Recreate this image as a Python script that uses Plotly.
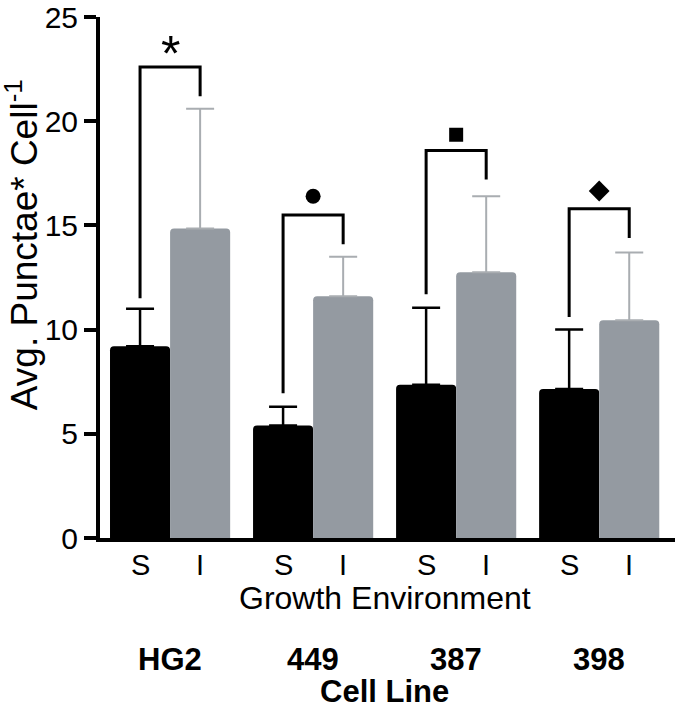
import plotly.graph_objects as go

# ---- data ----
cell_lines = ["HG2", "449", "387", "398"]
env_labels = ["S", "I"]
s_means = [9.2, 5.4, 7.35, 7.15]
i_means = [14.85, 11.6, 12.75, 10.45]
s_err = [1.8, 0.9, 3.7, 2.85]
i_err = [5.75, 1.9, 3.65, 3.25]
bracket_top = [22.6, 15.5, 18.6, 15.8]
bracket_left_end = [11.5, 6.95, 11.7, 10.6]
bracket_right_end = [21.2, 14.1, 17.2, 14.4]
sig_marks = ["*", "circle", "square", "diamond"]
sig_y = [23.4, 16.4, 19.35, 16.65]
y_ticks = [0, 5, 10, 15, 20, 25]

FONT = "Liberation Sans, Arial, Helvetica, sans-serif"
BLACK = "#000000"
GRAY = "#949aa1"
GRAY_ERR = "#a9adb1"

W = 0.42  # bar width in group units
xg = list(range(len(cell_lines)))
xs = [x - W / 2 for x in xg]
xi = [x + W / 2 for x in xg]

fig = go.Figure()
fig.add_trace(go.Bar(
    x=xg, y=s_means, width=W, offset=-W,
    marker=dict(color=BLACK, line=dict(width=0), cornerradius=4),
    error_y=dict(type="data", symmetric=False, array=s_err,
                 arrayminus=[0] * len(s_err), color=BLACK,
                 thickness=2.5, width=14),
    showlegend=False, hoverinfo="skip",
))
fig.add_trace(go.Bar(
    x=xg, y=i_means, width=W, offset=0,
    marker=dict(color=GRAY, line=dict(width=0), cornerradius=4),
    error_y=dict(type="data", symmetric=False, array=i_err,
                 arrayminus=[0] * len(i_err), color=GRAY_ERR,
                 thickness=2, width=14),
    showlegend=False, hoverinfo="skip",
))

# significance brackets
shapes = []
for k in range(len(cell_lines)):
    path = (f"M {xs[k]},{bracket_left_end[k]} L {xs[k]},{bracket_top[k]} "
            f"L {xi[k]},{bracket_top[k]} L {xi[k]},{bracket_right_end[k]}")
    shapes.append(dict(type="path", path=path, xref="x", yref="y",
                       line=dict(color=BLACK, width=3)))

# significance markers
for k, m in enumerate(sig_marks):
    if m == "*":
        continue
    size = {"circle": 15, "square": 14, "diamond": 16}[m]
    fig.add_trace(go.Scatter(
        x=[xg[k]], y=[sig_y[k]], mode="markers",
        marker=dict(symbol=m, size=size, color=BLACK, line=dict(width=0)),
        showlegend=False, hoverinfo="skip",
    ))

annotations = []
for k, m in enumerate(sig_marks):
    if m == "*":
        annotations.append(dict(x=xg[k], y=sig_y[k], xref="x", yref="y",
                                text="*", showarrow=False, yanchor="middle",
                                yshift=-4, font=dict(family=FONT, size=50, color=BLACK)))

# S / I labels under each bar
for k in range(len(cell_lines)):
    for xv, lab in ((xs[k], env_labels[0]), (xi[k], env_labels[1])):
        annotations.append(dict(x=xv, y=0, xref="x", yref="paper", text=lab,
                                showarrow=False, yanchor="middle", yshift=-27,
                                font=dict(family=FONT, size=29, color=BLACK)))
    annotations.append(dict(x=xg[k], y=0, xref="x", yref="paper",
                            text=f"<b>{cell_lines[k]}</b>", showarrow=False,
                            yanchor="middle", yshift=-121,
                            font=dict(family=FONT, size=31, color=BLACK)))

annotations.append(dict(x=1.5, y=0, xref="x", yref="paper",
                        text="Growth Environment", showarrow=False,
                        yanchor="middle", yshift=-60,
                        font=dict(family=FONT, size=32, color=BLACK)))
annotations.append(dict(x=1.5, y=0, xref="x", yref="paper",
                        text="<b>Cell Line</b>", showarrow=False,
                        yanchor="middle", yshift=-153,
                        font=dict(family=FONT, size=31, color=BLACK)))
annotations.append(dict(x=0, y=0.562, xref="paper", yref="paper",
                        text="Avg. Punctae* Cell<sup>-1</sup>", showarrow=False,
                        textangle=-90, xanchor="center", yanchor="middle",
                        xshift=-78,
                        font=dict(family=FONT, size=37, color=BLACK)))

fig.update_layout(
    width=675, height=710,
    margin=dict(l=100, r=0, t=13, b=172),
    paper_bgcolor="white", plot_bgcolor="white",
    barmode="overlay",
    shapes=shapes, annotations=annotations,
    xaxis=dict(range=[-0.49, 3.53], showgrid=False, zeroline=False,
               showticklabels=False, ticks="", showline=True,
               linecolor=BLACK, linewidth=4),
    yaxis=dict(range=[0, 25], tickvals=y_ticks, showgrid=False, zeroline=False,
               showline=True, linecolor=BLACK, linewidth=4,
               ticks="outside", ticklen=12, tickwidth=4, tickcolor=BLACK,
               ticklabeloverflow="allow",
               tickfont=dict(family=FONT, size=30, color=BLACK)),
)

fig.write_html("out.html", config={"displayModeBar": False},
               post_script="document.body.style.margin='0';document.body.style.padding='0';")
